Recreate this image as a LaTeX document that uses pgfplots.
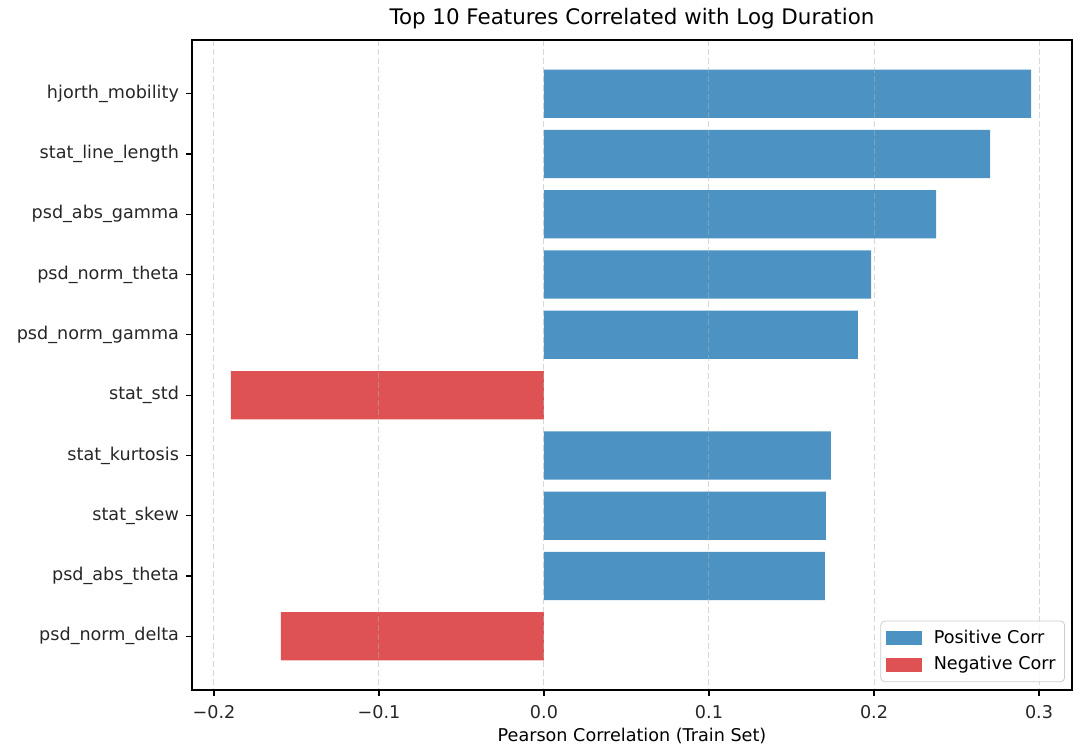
\documentclass[border=0pt]{standalone}
\usepackage{fontspec}
\setmainfont{DejaVu Sans}
\usepackage{pgfplots}
\pgfplotsset{compat=1.18}
\definecolor{posc}{RGB}{76,146,195}
\definecolor{negc}{RGB}{222,82,83}
\definecolor{gridc}{RGB}{176,176,176}
\begin{document}
\begin{tikzpicture}
\begin{axis}[
  at={(0,0)}, anchor=south west,
  scale only axis, width=440pt, height=325pt,
  xbar, bar width=0.8, bar shift=0pt,
  y dir=reverse,
  xmin=-0.2133, xmax=0.32,
  ymin=-0.89, ymax=9.89,
  xtick={-0.2,-0.1,0,0.1,0.2,0.3},
  xticklabels={−0.2,−0.1,0.0,0.1,0.2,0.3},
  ytick={0,...,9},
  yticklabels={hjorth\_mobility,stat\_line\_length,psd\_abs\_gamma,psd\_norm\_theta,psd\_norm\_gamma,stat\_std,stat\_kurtosis,stat\_skew,psd\_abs\_theta,psd\_norm\_delta},
  tick align=outside, major tick length=3pt,
  tick style={black, line width=0.6pt},
  axis line style={line width=0.6pt},
  xtick pos=bottom, ytick pos=left,
  xmajorgrids, ymajorgrids=false,
  grid style={gridc, opacity=0.5, dash pattern=on 3pt off 1.5pt, line width=0.5pt},
  axis on top,
  ticklabel style={font=\fontsize{8.8}{10}\selectfont, text=black!85},
  xticklabel style={yshift=-1pt},
  title={Top 10 Features Correlated with Log Duration},
  title style={font=\fontsize{10.7}{12}\selectfont, yshift=-4pt},
  xlabel={Pearson Correlation (Train Set)},
  xlabel style={font=\fontsize{8.8}{10}\selectfont, yshift=2pt},
  legend style={font=\fontsize{8.8}{10}\selectfont, draw=black!20, rounded corners=2pt, fill=white, fill opacity=0.8, text opacity=1, row sep=1pt, inner sep=2.5pt, at={(0.992,0.012)}, anchor=south east},
  legend cell align=left,
  legend image code/.code={\fill[#1, sharp corners, fill opacity=1] (0pt,-3.5pt) rectangle (18pt,3.5pt); \path (22pt,0pt);},
]
\addplot[fill=posc, draw=none] coordinates {
  (0.2952,0) (0.2703,1) (0.2376,2) (0.1982,3) (0.1903,4)
  (0.1739,6) (0.1709,7) (0.1703,8)
};
\addlegendentry{Positive Corr}
\addplot[fill=negc, draw=none] coordinates {
  (-0.1897,5) (-0.1594,9)
};
\addlegendentry{Negative Corr}
\end{axis}
\path (-96pt,-32pt) rectangle (444pt,345pt);
\end{tikzpicture}
\end{document}
